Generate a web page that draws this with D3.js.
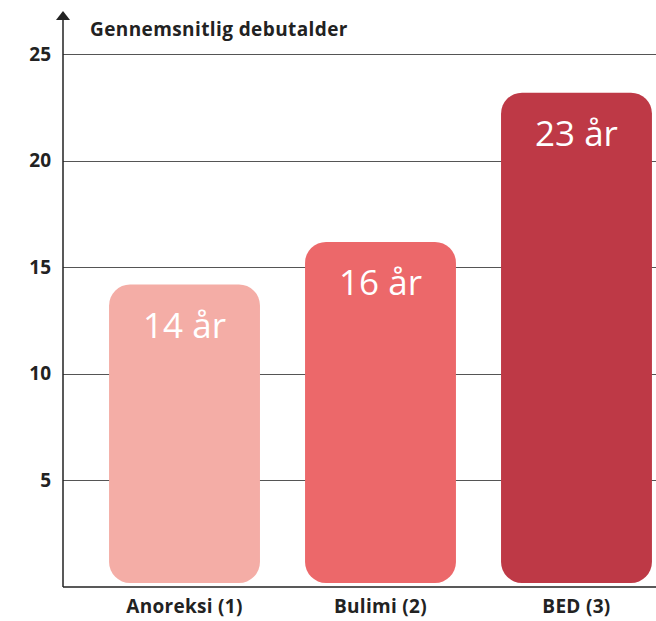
<!doctype html>
<html lang="da">
<head>
<meta charset="utf-8" />
<title>Gennemsnitlig debutalder</title>
<script src="https://d3js.org/d3.v7.min.js"></script>
<style>
  body { margin: 0; background: #fff; }
  svg text { font-family: "Open Sans", "Noto Sans", sans-serif; }
</style>
</head>
<body>
<div id="chart"></div>
<script>
// data
var categories = ["Anoreksi (1)", "Bulimi (2)", "BED (3)"];
var ages = [14, 16, 23];
var barLabels = ["14 år", "16 år", "23 år"];
var barColours = ["#F4ADA6", "#EC686A", "#BE3946"];
var yTicks = [5, 10, 15, 20, 25];
var yTitle = "Gennemsnitlig debutalder";

var width = 656, height = 621;
var axisX = 63;

var svg = d3.select("#chart").append("svg")
  .attr("width", width)
  .attr("height", height);

// y scale: 0 at the baseline, 25 near the top
var y = d3.scaleLinear()
  .domain([0, 25])
  .range([587, 54]);

// bands run past the right edge a bit, like in the original
var x = d3.scaleBand()
  .domain(categories)
  .range([axisX, 698])
  .paddingInner(0.23)
  .paddingOuter(0.235);

// gridlines
svg.append("g")
  .selectAll("line")
  .data(yTicks)
  .join("line")
    .attr("x1", axisX)
    .attr("x2", width)
    .attr("y1", function(d){ return Math.round(y(d)) + 0.5; })
    .attr("y2", function(d){ return Math.round(y(d)) + 0.5; })
    .attr("stroke", "#555")
    .attr("stroke-width", 1);

// tick labels
svg.append("g")
  .selectAll("text")
  .data(yTicks)
  .join("text")
    .attr("x", 51)
    .attr("y", function(d){ return y(d); })
    .attr("dy", "0.35em")
    .attr("text-anchor", "end")
    .attr("font-size", "19px")
    .attr("font-weight", 700)
    .attr("fill", "#222")
    .text(function(d){ return d; });

// bars (sit a few pixels above the baseline)
var lift = 4;
svg.append("g")
  .selectAll("rect")
  .data(ages)
  .join("rect")
    .attr("x", function(d,i){ return x(categories[i]); })
    .attr("y", function(d){ return y(d) - lift; })
    .attr("width", x.bandwidth())
    .attr("height", function(d){ return y(0) - y(d); })
    .attr("rx", 21)
    .attr("fill", function(d,i){ return barColours[i]; });

// labels inside bars
svg.append("g")
  .selectAll("text")
  .data(ages)
  .join("text")
    .attr("x", function(d,i){ return x(categories[i]) + x.bandwidth() / 2; })
    .attr("y", function(d){ return y(d) - lift + 53; })
    .attr("text-anchor", "middle")
    .attr("font-size", "35px")
    .attr("fill", "#fff")
    .text(function(d,i){ return barLabels[i]; });

// x axis baseline
svg.append("line")
  .attr("x1", axisX)
  .attr("x2", width)
  .attr("y1", y(0))
  .attr("y2", y(0))
  .attr("stroke", "#222")
  .attr("stroke-width", 1.5);

// category labels
svg.append("g")
  .selectAll("text")
  .data(categories)
  .join("text")
    .attr("x", function(d){ return x(d) + x.bandwidth() / 2; })
    .attr("y", 613)
    .attr("text-anchor", "middle")
    .attr("font-size", "19px")
    .attr("font-weight", 700)
    .attr("letter-spacing", "0.3px")
    .attr("fill", "#222")
    .text(function(d){ return d; });

// y axis with arrow head
svg.append("line")
  .attr("x1", axisX)
  .attr("x2", axisX)
  .attr("y1", 18)
  .attr("y2", y(0))
  .attr("stroke", "#222")
  .attr("stroke-width", 1.5);

svg.append("path")
  .attr("d", "M" + axisX + ",11 L" + (axisX + 7) + ",20 L" + (axisX - 7) + ",20 Z")
  .attr("fill", "#222");

// axis title
svg.append("text")
  .attr("x", 90)
  .attr("y", 36)
  .attr("font-size", "19px")
  .attr("font-weight", 700)
  .attr("letter-spacing", "0.4px")
  .attr("fill", "#222")
  .text(yTitle);
</script>
</body>
</html>
